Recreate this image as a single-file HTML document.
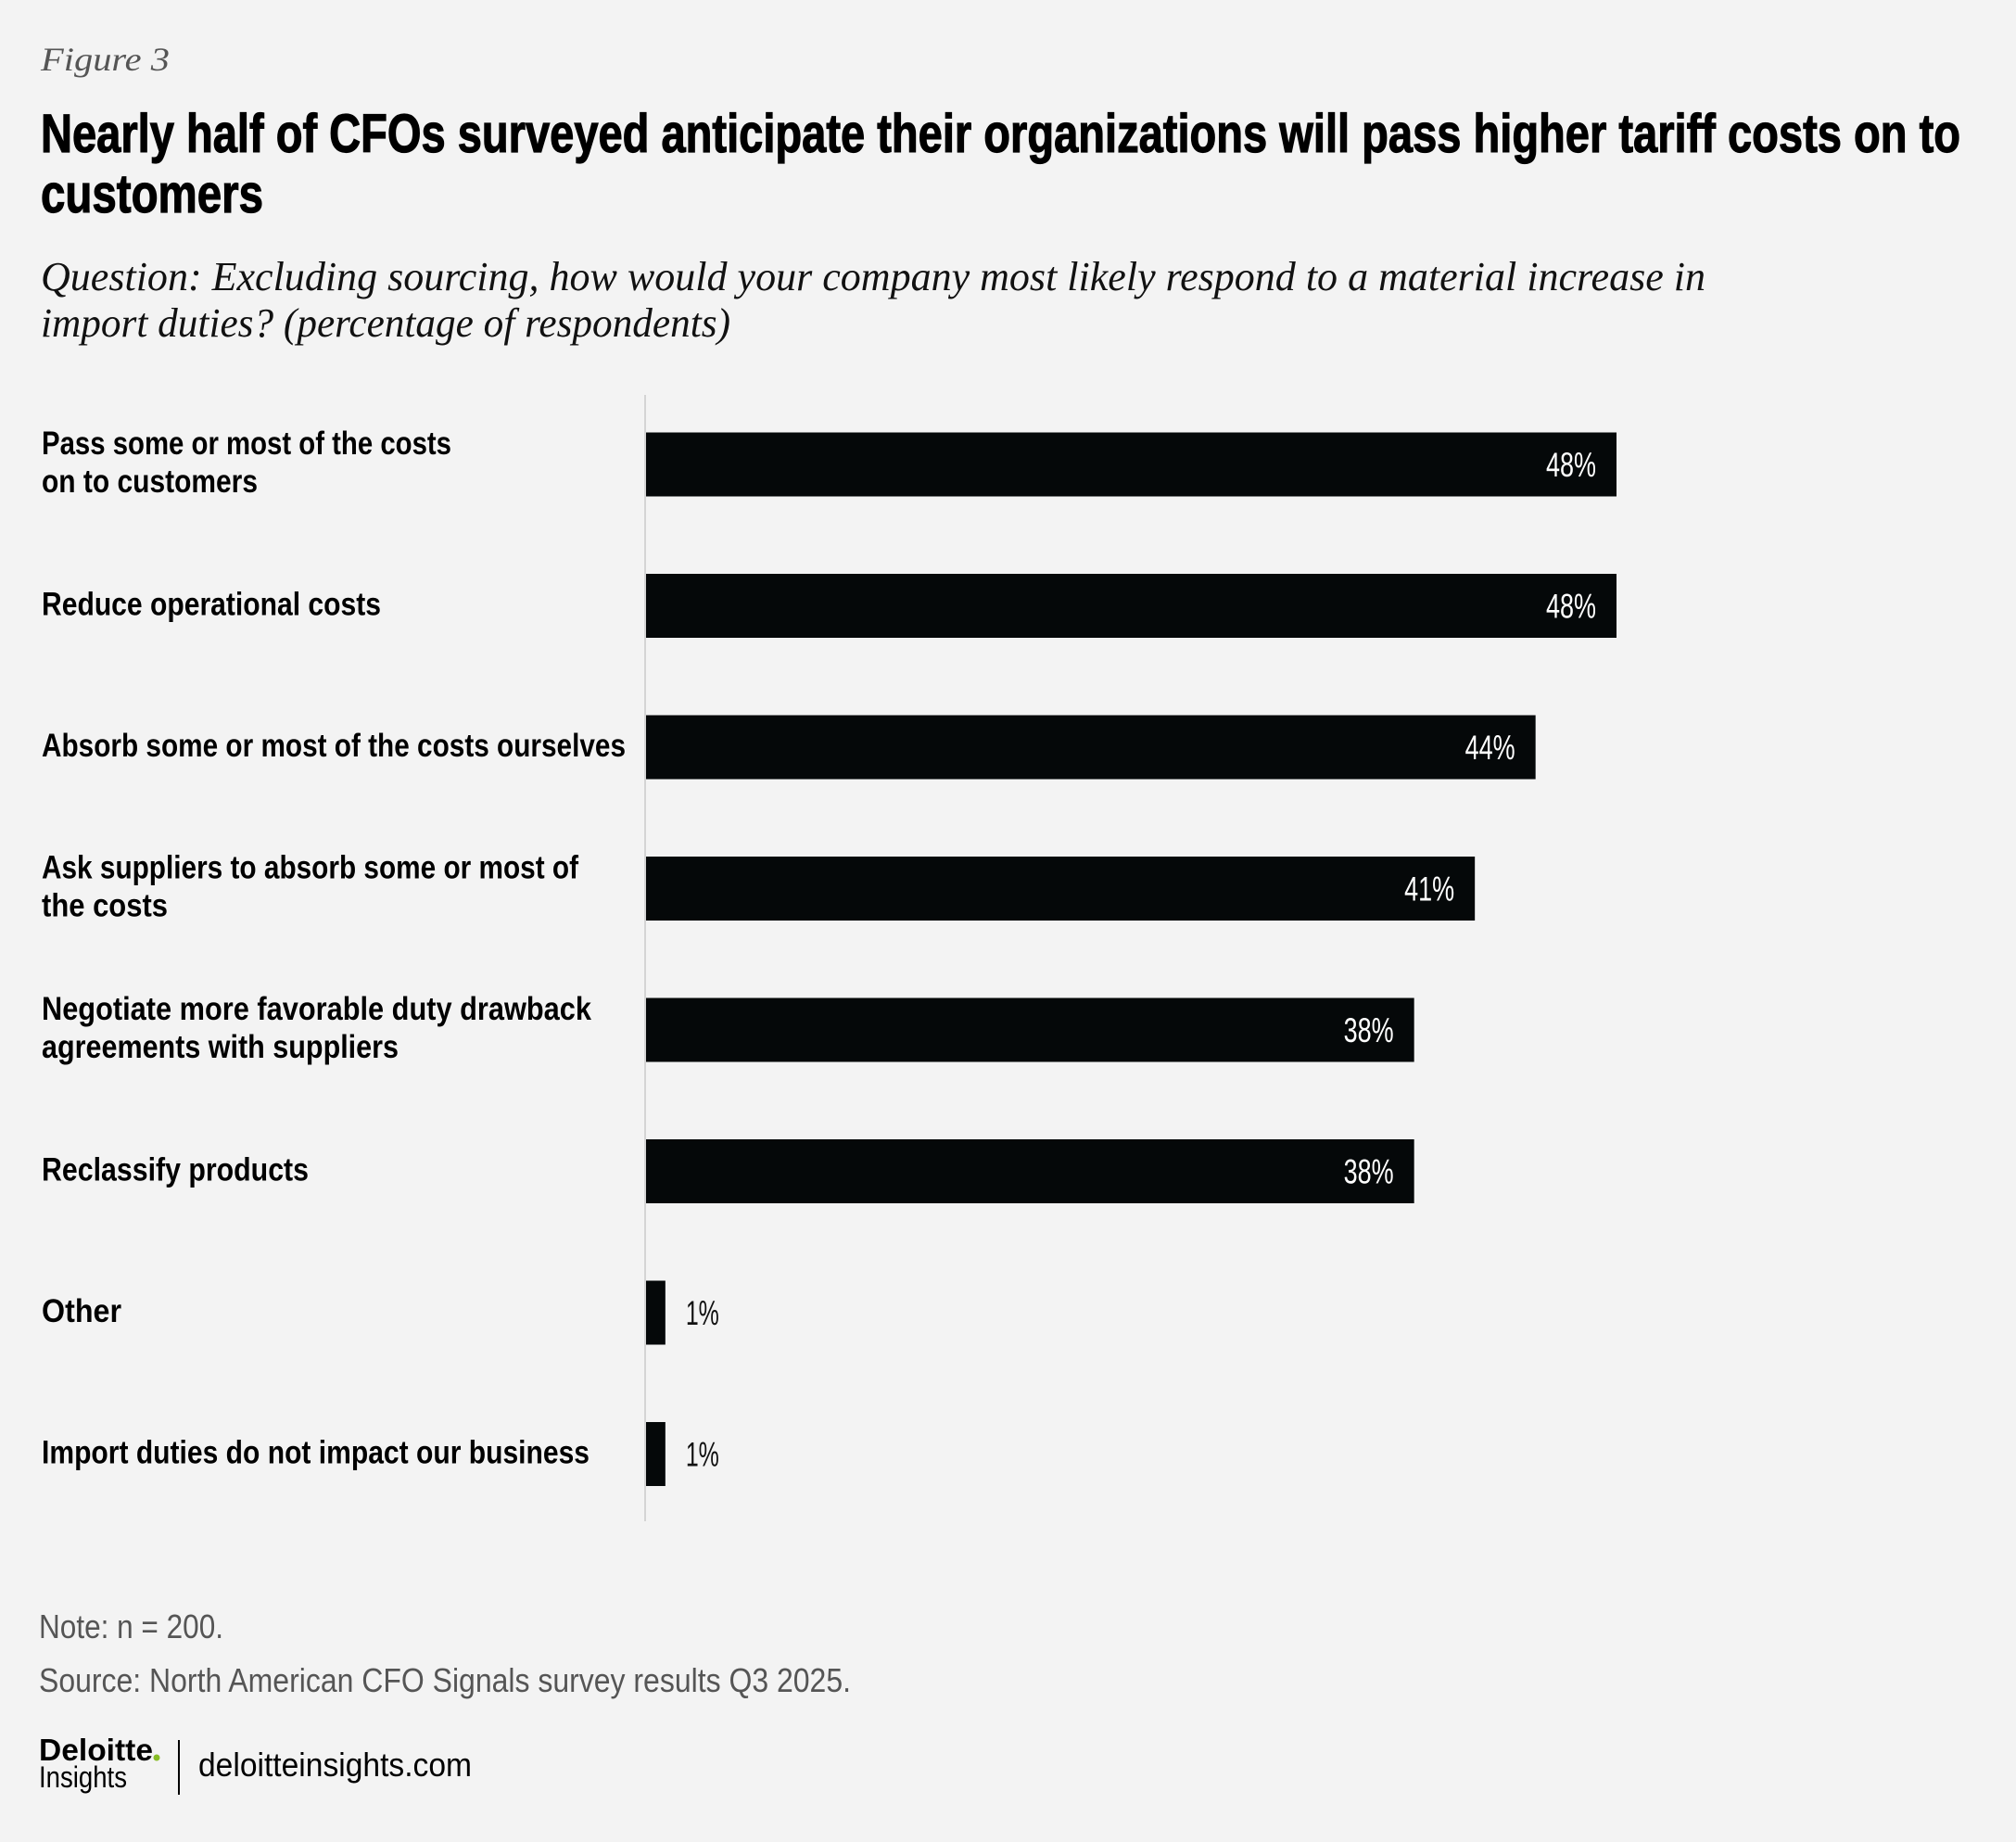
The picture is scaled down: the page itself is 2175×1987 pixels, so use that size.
<!DOCTYPE html>
<html><head><meta charset="utf-8"><style>
html,body{margin:0;padding:0;background:#f3f3f3;}
svg{display:block;}
</style></head><body>
<svg id="chart" width="2175" height="1987" viewBox="0 0 2175 1987" xmlns="http://www.w3.org/2000/svg">
<rect x="0" y="0" width="2175" height="1987" fill="#f3f3f3"/>
<text x="44" y="76" font-family="Liberation Serif, serif" font-style="italic" font-size="36" fill="#555" textLength="139" lengthAdjust="spacingAndGlyphs">Figure 3</text>
<text x="44" y="164" font-family="Liberation Sans, sans-serif" font-weight="bold" font-size="58" fill="#000" stroke="#000" stroke-width="1.2" textLength="2071" lengthAdjust="spacingAndGlyphs">Nearly half of CFOs surveyed anticipate their organizations will pass higher tariff costs on to</text>
<text x="44" y="229" font-family="Liberation Sans, sans-serif" font-weight="bold" font-size="58" fill="#000" stroke="#000" stroke-width="1.2" textLength="240" lengthAdjust="spacingAndGlyphs">customers</text>
<text x="44" y="313" font-family="Liberation Serif, serif" font-style="italic" font-size="44" fill="#111" textLength="1796" lengthAdjust="spacingAndGlyphs">Question: Excluding sourcing, how would your company most likely respond to a material increase in</text>
<text x="44" y="363" font-family="Liberation Serif, serif" font-style="italic" font-size="44" fill="#111" textLength="744" lengthAdjust="spacingAndGlyphs">import duties? (percentage of respondents)</text>
<line x1="696" y1="426" x2="696" y2="1641" stroke="#d4d4d4" stroke-width="2"/>
<g id="bars"></g>
<text x="42" y="1767" font-family="Liberation Sans, sans-serif" font-size="36" fill="#555" textLength="199" lengthAdjust="spacingAndGlyphs">Note: n = 200.</text>
<text x="42" y="1825" font-family="Liberation Sans, sans-serif" font-size="36" fill="#555" textLength="876" lengthAdjust="spacingAndGlyphs">Source: North American CFO Signals survey results Q3 2025.</text>
<g>
<text x="42" y="1899" font-family="Liberation Sans, sans-serif" font-weight="bold" font-size="33" fill="#000" textLength="123" lengthAdjust="spacingAndGlyphs">Deloitte</text>
<circle cx="169" cy="1896" r="3.5" fill="#86bc25"/>
<text x="42" y="1928" font-family="Liberation Sans, sans-serif" font-size="32" fill="#000" textLength="95" lengthAdjust="spacingAndGlyphs">Insights</text>
</g>
<line x1="193" y1="1877" x2="193" y2="1936" stroke="#000" stroke-width="2"/>
<text x="214" y="1916" font-family="Liberation Sans, sans-serif" font-size="36" fill="#000" textLength="295" lengthAdjust="spacingAndGlyphs">deloitteinsights.com</text>
</svg>
<script>
const categories = [
  ["Pass some or most of the costs","on to customers"],
  ["Reduce operational costs"],
  ["Absorb some or most of the costs ourselves"],
  ["Ask suppliers to absorb some or most of","the costs"],
  ["Negotiate more favorable duty drawback","agreements with suppliers"],
  ["Reclassify products"],
  ["Other"],
  ["Import duties do not impact our business"]
];
const values = [48, 48, 44, 41, 38, 38, 1, 1];
const valueLabels = ["48%","48%","44%","41%","38%","38%","1%","1%"];
const labelWidths = [[442,233],[366],[630],[579,136],[593,385],[288],[86],[591]];

const NS = "http://www.w3.org/2000/svg";
const g = document.getElementById("bars");
const x0 = 696, pxPerUnit = 1048/48;
const xScale = v => x0 + v * pxPerUnit;
const bandTop = 466.5, bandStep = 152.5, barH = 69;
const yBand = i => bandTop + i * bandStep;

categories.forEach((lines, i) => {
  const y = yBand(i);
  const cy = y + barH/2;
  const r = document.createElementNS(NS, "rect");
  
  
  r.setAttribute("x", x0 + 1);
  r.setAttribute("y", y);
  r.setAttribute("width", xScale(values[i]) - x0 - 1);
  r.setAttribute("height", barH);
  r.setAttribute("fill", "#050809");
  g.appendChild(r);

  const vt = document.createElementNS(NS, "text");
  
  
  vt.setAttribute("font-family", "Liberation Sans, sans-serif");
  vt.setAttribute("font-size", "37");
  vt.setAttribute("y", cy + 13);
  const end = xScale(values[i]);
  if (end - x0 > 120) {
    vt.setAttribute("x", end - 22);
    vt.setAttribute("text-anchor", "end");
    vt.setAttribute("fill", "#fff");
  } else {
    vt.setAttribute("x", end + 22);
    vt.setAttribute("fill", "#111");
  }
  vt.setAttribute("textLength", valueLabels[i].length === 3 ? 54 : 36);
  vt.setAttribute("lengthAdjust", "spacingAndGlyphs");
  vt.textContent = valueLabels[i];
  g.appendChild(vt);

  lines.forEach((ln, j) => {
    const t = document.createElementNS(NS, "text");
    
    
    t.setAttribute("x", 45);
    const by = lines.length === 1 ? cy + 10 : cy - 11 + j * 41;
    t.setAttribute("y", by);
    t.setAttribute("font-family", "Liberation Sans, sans-serif");
    t.setAttribute("font-weight", "bold");
    t.setAttribute("font-size", "35");
    t.setAttribute("fill", "#000");
    t.setAttribute("textLength", labelWidths[i][j]);
    t.setAttribute("lengthAdjust", "spacingAndGlyphs");
    t.textContent = ln;
    g.appendChild(t);
  });
});
</script>
</body></html>
